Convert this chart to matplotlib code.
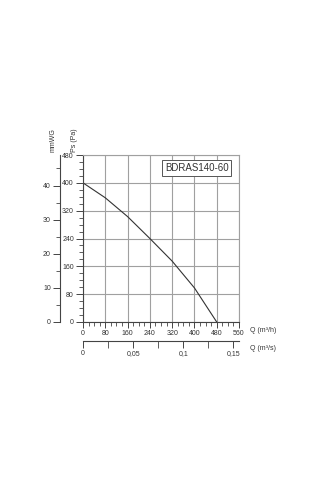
import matplotlib
matplotlib.use("Agg")
import matplotlib.pyplot as plt
from matplotlib.ticker import MultipleLocator, FixedLocator

plt.rcParams['font.family'] = ['Liberation Sans', 'DejaVu Sans']

# Data
q_m3h = [0, 80, 160, 240, 320, 400, 480]
ps_pa = [400, 357, 303, 240, 175, 98, 0]
model = "BDRAS140-60"
x_ticks = [0, 80, 160, 240, 320, 400, 480, 560]
y_ticks = [0, 80, 160, 240, 320, 400, 480]
mm_ticks = [0, 10, 20, 30, 40]
qs_ticks = [0, 0.05, 0.1, 0.15]
qs_labels = ["0", "0,05", "0,1", "0,15"]

W, H = 320, 480
fig = plt.figure(figsize=(3.2, 4.8), dpi=100)
fig.patch.set_facecolor('white')

def fx(px):
    return px / W

def fy(py):
    return 1 - py / H

x0, x1, y0, y1 = 83, 239, 322, 155
ax = fig.add_axes([fx(x0), fy(y0), fx(x1 - x0), (y0 - y1) / H])
ax.plot(q_m3h, ps_pa, color='#333333', lw=0.8)
ax.set_xlim(0, 560)
ax.set_ylim(0, 480)
ax.xaxis.set_major_locator(FixedLocator(x_ticks))
ax.yaxis.set_major_locator(FixedLocator(y_ticks))
ax.xaxis.set_minor_locator(MultipleLocator(20))
ax.yaxis.set_minor_locator(MultipleLocator(20))
ax.grid(True, which='major', color='#a0a0a0', lw=0.8)
ax.set_axisbelow(True)
for s in ['top', 'right']:
    ax.spines[s].set_color('#a0a0a0')
    ax.spines[s].set_linewidth(0.8)
for s in ['left', 'bottom']:
    ax.spines[s].set_color('#444444')
    ax.spines[s].set_linewidth(0.8)
ax.tick_params(which='major', direction='out', length=5, width=0.7, color='#444444',
               labelsize=5, pad=1.5, labelcolor='#333333')
ax.tick_params(which='minor', direction='out', length=3, width=0.6, color='#444444')
ax.tick_params(axis='x', which='major', length=4)

ax.text(0.73, 0.921, model, transform=ax.transAxes, ha='center', va='center',
        fontsize=7, color='#333333',
        bbox=dict(boxstyle='square,pad=0.28', fc='white', ec='#555555', lw=0.7))

# mmWG axis
ax2 = fig.add_axes([fx(60), fy(y0), 0.001, (y0 - y1) / H])
ax2.set_ylim(0, 480 / 9.80665)
ax2.patch.set_visible(False)
for s in ['top', 'right', 'bottom']:
    ax2.spines[s].set_visible(False)
ax2.spines['left'].set_color('#444444')
ax2.spines['left'].set_linewidth(0.8)
ax2.set_xticks([])
ax2.yaxis.set_major_locator(FixedLocator(mm_ticks))
ax2.yaxis.set_minor_locator(MultipleLocator(5))
ax2.tick_params(which='major', direction='out', length=5, width=0.7, color='#444444',
                labelsize=5, pad=1.5, labelcolor='#333333')
ax2.tick_params(which='minor', direction='out', length=3, width=0.6, color='#444444')

# m3/s axis
ax3 = fig.add_axes([fx(x0), fy(341), fx(x1 - x0), 0.001])
ax3.set_xlim(0, 560 / 3600)
ax3.patch.set_visible(False)
for s in ['top', 'right', 'left']:
    ax3.spines[s].set_visible(False)
ax3.spines['bottom'].set_color('#444444')
ax3.spines['bottom'].set_linewidth(0.8)
ax3.set_yticks([])
ax3.xaxis.set_major_locator(FixedLocator(qs_ticks))
ax3.set_xticklabels(qs_labels)
ax3.xaxis.set_minor_locator(MultipleLocator(0.025))
ax3.tick_params(which='major', direction='out', length=5, width=0.7, color='#444444',
                labelsize=5, pad=1.5, labelcolor='#333333')
ax3.tick_params(which='minor', direction='out', length=5, width=0.6, color='#444444')

# axis titles
fig.text(fx(250), fy(331), "Q (m³/h)", fontsize=5, ha='left', va='center', color='#333333')
fig.text(fx(250), fy(349), "Q (m³/s)", fontsize=5, ha='left', va='center', color='#333333')
fig.text(fx(74), fy(140), "Ps (Pa)", fontsize=5, rotation=90, ha='center', va='center', color='#333333')
fig.text(fx(53), fy(140), "mmWG", fontsize=5, rotation=90, ha='center', va='center', color='#333333')

fig.savefig("out.png", dpi=100, facecolor='white')
